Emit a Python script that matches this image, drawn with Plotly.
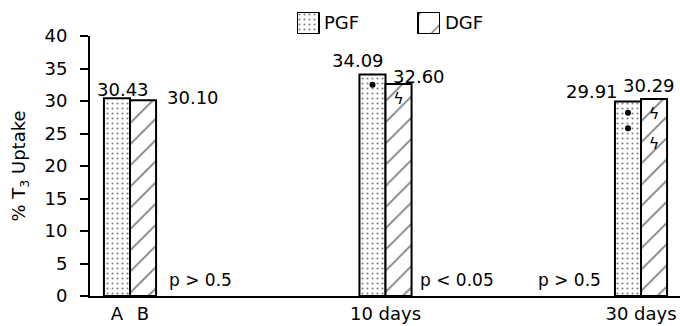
import plotly.graph_objects as go

groups = [0, 1, 2]
group_labels = ["10 days", "30 days"]
bar_letters = ["A", "B"]
series_names = ["PGF", "DGF"]
pgf = [30.43, 34.09, 29.91]
dgf = [30.10, 32.60, 30.29]
p_texts = ["p > 0.5", "p < 0.05", "p > 0.5"]
# significance markers (group index, value)
pgf_mark_g = [1, 2, 2]
pgf_mark_v = [32.5, 28.2, 25.8]
dgf_mark_g = [1, 2, 2]
dgf_mark_v = [30.2, 27.8, 23.3]

W = 0.102
FONT = "DejaVu Sans"
TOP = 10          # top margin (px)
PLOT_H = 286      # plot-area height incl. legend strip
MAIN_FRAC = 260 / PLOT_H

dot_pat = dict(shape=".", fgcolor="black", bgcolor="white", size=5, solidity=0.14)
hatch_pat = dict(shape="/", fgcolor="black", bgcolor="white", size=15, solidity=0.12)

fig = go.Figure()
fig.add_trace(go.Bar(
    name="PGF", x=groups, y=pgf, width=W, offset=-W,
    marker=dict(color="white", line=dict(color="black", width=2), pattern=dot_pat),
    showlegend=False,
))
fig.add_trace(go.Bar(
    name="DGF", x=groups, y=dgf, width=W, offset=0,
    marker=dict(color="white", line=dict(color="black", width=2), pattern=hatch_pat),
    showlegend=False,
))
fig.add_trace(go.Scatter(
    x=[g - W / 2 for g in pgf_mark_g], y=pgf_mark_v, mode="markers",
    marker=dict(symbol="circle", size=6, color="black"),
    showlegend=False, hoverinfo="skip",
))
fig.add_trace(go.Scatter(
    x=[g + W / 2 for g in dgf_mark_g], y=dgf_mark_v, mode="text",
    text=["ϟ"] * len(dgf_mark_v), textfont=dict(family=FONT, size=16, color="black"),
    showlegend=False, hoverinfo="skip",
))

# legend swatches drawn on a small auxiliary axis
fig.add_trace(go.Bar(
    x=[0], y=[1], width=[1], xaxis="x2", yaxis="y2", showlegend=False, hoverinfo="skip",
    marker=dict(color="white", line=dict(color="black", width=2), pattern=dot_pat),
))
fig.add_trace(go.Bar(
    x=[5.5], y=[1], width=[1], xaxis="x2", yaxis="y2", showlegend=False, hoverinfo="skip",
    marker=dict(color="white", line=dict(color="black", width=2),
                pattern=dict(shape="/", fgcolor="black", bgcolor="white", size=22, solidity=0.07)),
))
for xx, name in zip([0.5, 6.0], series_names):
    fig.add_annotation(x=xx, y=0.5, xref="x2", yref="y2", text=name, showarrow=False,
                       xanchor="left", xshift=3,
                       font=dict(family=FONT, size=18, color="black"))

# value labels (layout offsets in pixels)
pgf_shift = [(6, -4), (-14, 1), (-36, -2)]
dgf_shift = [(50, -10), (20, -5), (-5, 1)]
for g, v, (dx, dy) in zip(groups, pgf, pgf_shift):
    fig.add_annotation(x=g - W / 2, y=v, text=f"{v:.2f}", showarrow=False,
                       xshift=dx, yshift=dy, yanchor="bottom",
                       font=dict(family=FONT, size=18, color="black"))
for g, v, (dx, dy) in zip(groups, dgf, dgf_shift):
    fig.add_annotation(x=g + W / 2, y=v, text=f"{v:.2f}", showarrow=False,
                       xshift=dx, yshift=dy, yanchor="bottom",
                       font=dict(family=FONT, size=18, color="black"))

p_x = [0.274, 1.28, 1.72]
for px, t in zip(p_x, p_texts):
    fig.add_annotation(x=px, y=2.5, text=t, showarrow=False,
                       font=dict(family=FONT, size=17, color="black"))

fig.update_layout(
    width=680, height=326,
    margin=dict(l=90, r=0, t=TOP, b=30),
    paper_bgcolor="white", plot_bgcolor="white",
    barmode="overlay",
    font=dict(family=FONT, size=18, color="black"),
    showlegend=False,
    xaxis=dict(range=[-0.1566, 2.1526], showgrid=False, zeroline=False,
               showline=True, linecolor="black", linewidth=2,
               tickvals=[-W / 2, W / 2, 1, 2],
               ticktext=bar_letters + group_labels,
               ticks="", automargin=False,
               tickfont=dict(family=FONT, size=18, color="black")),
    yaxis=dict(range=[0, 40], domain=[0, MAIN_FRAC], tickvals=list(range(0, 41, 5)),
               showgrid=False, zeroline=False, showline=True, linecolor="black", linewidth=2,
               ticks="outside", ticklen=8, tickwidth=2, tickcolor="black",
               ticklabelstandoff=9, automargin=False,
               tickfont=dict(family=FONT, size=18, color="black"),
               title=dict(text="% T<sub>3</sub> Uptake", standoff=14,
                          font=dict(family=FONT, size=18, color="black"))),
    # auxiliary axis for the legend: 22 px per unit
    xaxis2=dict(domain=[(297 - 90) / 590, (297 - 90 + 143) / 590], range=[-0.5, 6.0],
                visible=False, fixedrange=True),
    yaxis2=dict(domain=[(296 - 34) / PLOT_H, (296 - 12) / PLOT_H], range=[0, 1],
                visible=False, fixedrange=True, anchor="x2"),
)

fig.write_html("out.html", config={"displayModeBar": False},
               post_script="document.body.style.margin='0';document.body.style.padding='0';")
